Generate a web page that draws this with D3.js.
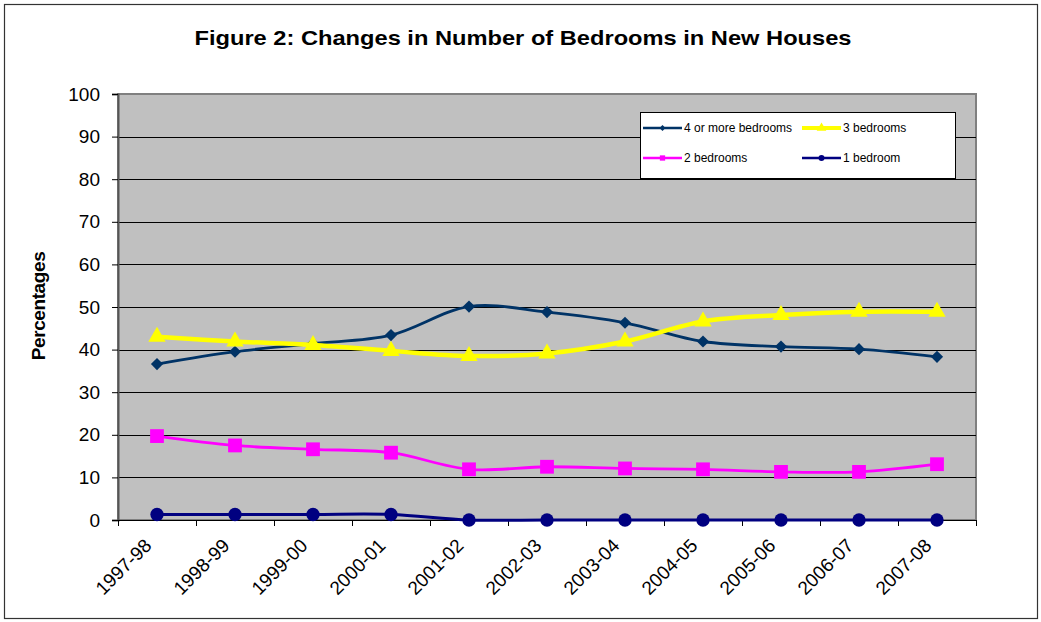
<!DOCTYPE html>
<html><head><meta charset="utf-8">
<script src="https://cdn.jsdelivr.net/npm/d3@7"></script>
<style>body{margin:0;background:#fff}svg{display:block}text{font-family:Arial,"Liberation Sans",sans-serif}</style>
</head><body><svg id="c" width="1041" height="622"></svg>
<script>
const categories = ["1997-98","1998-99","1999-00","2000-01","2001-02","2002-03","2003-04","2004-05","2005-06","2006-07","2007-08"];
const fourPlus = [36.6,39.5,41.4,43.4,50.1,48.8,46.3,41.9,40.7,40.1,38.3];
const three = [43.0,41.9,41.1,39.7,38.5,39.1,41.9,46.6,48.1,48.9,48.9];
const two = [19.7,17.5,16.6,15.8,11.9,12.5,12.1,11.9,11.3,11.3,13.1];
const one = [1.3,1.3,1.3,1.3,0,0,0,0,0,0,0];
const yTicks = [0,10,20,30,40,50,60,70,80,90,100];
const seriesNames = ["4 or more bedrooms","3 bedrooms","2 bedrooms","1 bedroom"];

const svg = d3.select("#c");
const L=118, R=976, T=94, B=520;
svg.append("rect").attr("x",4.5).attr("y",4.5).attr("width",1033).attr("height",614).attr("fill","#fff").attr("stroke","#333").attr("stroke-width",1.2);

svg.append("text").attr("x",523).attr("y",45).attr("text-anchor","middle").attr("font-weight","bold").attr("font-size",21)
  .attr("textLength",657).attr("lengthAdjust","spacingAndGlyphs").text("Figure 2: Changes in Number of Bedrooms in New Houses");

const x = d3.scaleBand().domain(categories).range([L,R]);
const y = d3.scaleLinear().domain([0,100]).range([B,T]);

svg.append("rect").attr("x",L).attr("y",T).attr("width",R-L).attr("height",B-T).attr("fill","#c0c0c0").attr("stroke","#808080").attr("stroke-width",2);

svg.append("g").selectAll("line").data(yTicks.slice(1,-1)).join("line")
  .attr("x1",L).attr("x2",R).attr("y1",d=>Math.round(y(d))+0.5).attr("y2",d=>Math.round(y(d))+0.5).attr("stroke","#000").attr("stroke-width",1);

// y axis
const ya = svg.append("g").attr("transform",`translate(${L},0)`).call(d3.axisLeft(y).tickValues(yTicks).tickSize(6).tickPadding(12));
ya.select(".domain").attr("stroke","#555").attr("stroke-width",2);
ya.selectAll(".tick line").attr("stroke","#000");
ya.selectAll("text").attr("font-size",19).attr("fill","#000").attr("font-family","Arial, Liberation Sans, sans-serif");

// x axis
const xa = svg.append("g").attr("transform",`translate(0,${B})`).call(d3.axisBottom(x).tickSize(0).tickFormat(""));
xa.select(".domain").attr("stroke","#000").attr("stroke-width",1);
const edges = categories.map(c=>x(c)).concat([R]);
svg.append("g").selectAll("line").data(edges).join("line")
  .attr("x1",d=>d+0.5).attr("x2",d=>d+0.5).attr("y1",B).attr("y2",B+6).attr("stroke","#000");
svg.append("g").selectAll("text").data(categories).join("text")
  .attr("transform",d=>`translate(${x(d)+x.bandwidth()/2-9},${B+22}) rotate(-45)`)
  .attr("text-anchor","end").attr("dy","0.35em").attr("font-size",19).text(d=>d);

svg.append("text").attr("transform","translate(45,306) rotate(-90)").attr("text-anchor","middle")
  .attr("font-weight","bold").attr("font-size",19).attr("letter-spacing","-0.4").text("Percentages");

const cx = d=>x(d)+x.bandwidth()/2;
const line = d3.line().curve(d3.curveCatmullRom.alpha(0.5)).x((d,i)=>cx(categories[i])).y(d=>y(d));

const series = [
  {name:seriesNames[0], data:fourPlus, color:"#003366", w:2.8, marker:d3.symbolDiamond2, ms:95},
  {name:seriesNames[1], data:three, color:"#ffff00", w:4.5, marker:d3.symbolTriangle, ms:130},
  {name:seriesNames[2], data:two, color:"#ff00ff", w:2.8, marker:d3.symbolSquare, ms:190},
  {name:seriesNames[3], data:one, color:"#000080", w:3, marker:d3.symbolCircle, ms:140}
];
series.forEach(s=>{
  svg.append("path").attr("d",line(s.data)).attr("fill","none").attr("stroke",s.color).attr("stroke-width",s.w);
  svg.append("g").selectAll("path").data(s.data).join("path")
    .attr("transform",(d,i)=>`translate(${cx(categories[i])},${y(d)})`)
    .attr("d",d3.symbol().type(s.marker).size(s.ms)).attr("fill",s.color);
});

// legend
const lg = svg.append("g");
lg.append("rect").attr("x",640.5).attr("y",112.5).attr("width",315).attr("height",66).attr("fill","#fff").attr("stroke","#000").attr("stroke-width",1);
const lpos=[[643,128],[802,128],[643,158],[802,158]];
series.forEach((s,i)=>{
  const [lx,ly]=lpos[i];
  lg.append("line").attr("x1",lx).attr("x2",lx+39).attr("y1",ly).attr("y2",ly).attr("stroke",s.color).attr("stroke-width",i===1?4:2.5);
  lg.append("path").attr("transform",`translate(${lx+19.5},${ly})`).attr("d",d3.symbol().type(s.marker).size(i===1?40:i===0?22:28)).attr("fill",s.color);
  lg.append("text").attr("x",lx+41).attr("y",ly).attr("dy","0.35em").attr("font-size",12).text(s.name);
});
</script></body></html>
